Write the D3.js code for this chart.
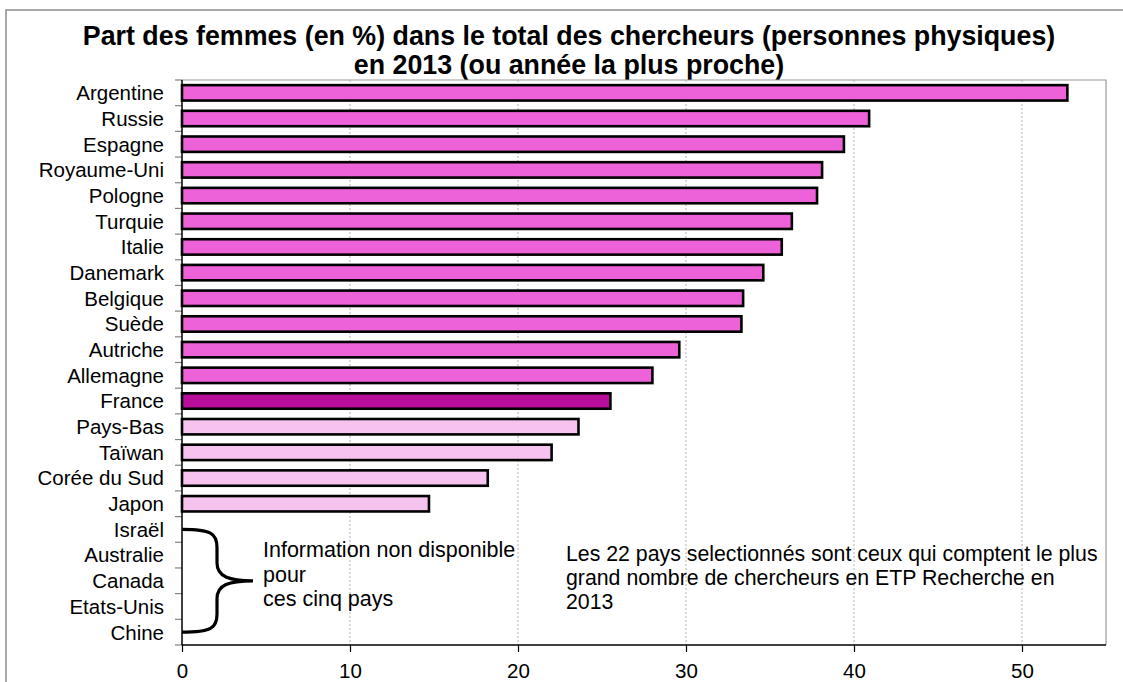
<!DOCTYPE html>
<html>
<head>
<meta charset="utf-8">
<script src="https://cdn.jsdelivr.net/npm/d3@7"></script>
<style>
  html, body { margin: 0; padding: 0; background: #fff; }
  svg { display: block; font-family: "Liberation Sans", Arial, sans-serif; }
</style>
</head>
<body>
<svg id="chart" width="1123" height="682"></svg>
<script>
const categories = ["Argentine","Russie","Espagne","Royaume-Uni","Pologne","Turquie","Italie","Danemark","Belgique","Suède","Autriche","Allemagne","France","Pays-Bas","Taïwan","Corée du Sud","Japon","Israël","Australie","Canada","Etats-Unis","Chine"];
const values = [52.7, 40.9, 39.4, 38.1, 37.8, 36.3, 35.7, 34.6, 33.4, 33.3, 29.6, 28.0, 25.5, 23.6, 22.0, 18.2, 14.7, null, null, null, null, null];
const groups = ["a","a","a","a","a","a","a","a","a","a","a","a","f","b","b","b","b","n","n","n","n","n"];
const xTicks = [0, 10, 20, 30, 40, 50];
const titleLines = ["Part des femmes (en %) dans le total des chercheurs (personnes physiques)", "en 2013 (ou année la plus proche)"];
const missingNote = ["Information non disponible", "pour", "ces cinq pays"];
const selectionNote = ["Les 22 pays selectionnés sont ceux qui comptent le plus", "grand nombre de chercheurs en ETP Recherche en", "2013"];
const missingCountries = ["Israël", "Chine"];

const colors = { a: "#ee62d9", f: "#b80e9b", b: "#f6c2ee" };

const svg = d3.select("#chart");
const pL = 182, pR = 1106, pT = 80, pB = 645;

// outer frame
svg.append("rect").attr("x", 6).attr("y", 10).attr("width", 1140).attr("height", 700)
  .attr("fill", "none").attr("stroke", "#8c8c8c").attr("stroke-width", 1.5);

const x = d3.scaleLinear().domain([0, 55]).range([pL, pR]);
const y = d3.scaleBand().domain(categories).range([pT, pB]).paddingInner(0.40).paddingOuter(0.20);
const step = y.step();

// title
svg.append("text").attr("text-anchor", "middle").attr("font-weight", "bold").attr("font-size", 26.8)
  .selectAll("tspan").data(titleLines).join("tspan")
  .attr("x", 569).attr("y", (d, i) => 45 + i * 29).text(d => d);

// plot border (top & right)
svg.append("path").attr("d", `M${pL},${pT}H${pR}V${pB}`).attr("fill", "none")
  .attr("stroke", "#9a9a9a").attr("stroke-width", 1.2);

// gridlines
svg.append("g").selectAll("line").data(xTicks.filter(t => t > 0)).join("line")
  .attr("x1", d => x(d)).attr("x2", d => x(d)).attr("y1", pT).attr("y2", pB)
  .attr("stroke", "#b0b0b0").attr("stroke-width", 1).attr("stroke-dasharray", "2,2");

// bars
svg.append("g").selectAll("rect").data(categories.map((c, i) => ({ c, v: values[i], g: groups[i] })).filter(d => d.v != null))
  .join("rect")
  .attr("x", x(0)).attr("y", d => y(d.c))
  .attr("width", d => x(d.v) - x(0)).attr("height", y.bandwidth())
  .attr("fill", d => colors[d.g]).attr("stroke", "#000").attr("stroke-width", 2.6);

// y axis
const yAxisG = svg.append("g");
const boundaries = d3.range(categories.length + 1).map(i => pT + i * step);
yAxisG.selectAll("line.tk").data(boundaries).join("line").attr("class", "tk")
  .attr("x1", pL - 7).attr("x2", pL).attr("y1", d => d).attr("y2", d => d)
  .attr("stroke", "#808080").attr("stroke-width", 1.2);
yAxisG.selectAll("text").data(categories).join("text")
  .attr("x", 164).attr("y", d => y(d) + y.bandwidth() / 2).attr("dy", "0.36em")
  .attr("text-anchor", "end").attr("font-size", 20.5).attr("fill", "#000").text(d => d);
svg.append("line").attr("x1", pL).attr("x2", pL).attr("y1", pT).attr("y2", pB)
  .attr("stroke", "#000").attr("stroke-width", 1.5);

// x axis
const xAxis = d3.axisBottom(x).tickValues(xTicks).tickSize(7).tickSizeOuter(0).tickPadding(11);
const xg = svg.append("g").attr("transform", `translate(0,${pB})`).call(xAxis);
xg.select(".domain").attr("stroke", "#000").attr("stroke-width", 1.5).attr("d", `M${pL},0H${pR}`);
xg.selectAll(".tick line").attr("stroke", "#000").attr("stroke-width", 1.2);
xg.selectAll(".tick text").attr("font-size", 20.5).attr("font-family", "Liberation Sans, Arial, sans-serif").attr("fill", "#000");

// brace
const y0 = y(missingCountries[0]) + y.bandwidth() / 2;
const y1 = y(missingCountries[1]) + y.bandwidth() / 2;
const ym = (y0 + y1) / 2;
const bx = x(0), bm = bx + 35, bt = bx + 71;
svg.append("path")
  .attr("d", `M${bx},${y0} C${bm - 6},${y0} ${bm},${y0 + 4} ${bm},${y0 + 18} L${bm},${ym - 18} C${bm},${ym - 4} ${bm + 12},${ym} ${bt},${ym} C${bm + 12},${ym} ${bm},${ym + 4} ${bm},${ym + 18} L${bm},${y1 - 18} C${bm},${y1 - 4} ${bm - 6},${y1} ${bx},${y1}`)
  .attr("fill", "none").attr("stroke", "#000").attr("stroke-width", 3.2);

// notes
svg.append("text").attr("font-size", 21.5).selectAll("tspan").data(missingNote).join("tspan")
  .attr("x", 263).attr("y", (d, i) => 557 + i * 24.5).text(d => d);
svg.append("text").attr("font-size", 21.3).selectAll("tspan").data(selectionNote).join("tspan")
  .attr("x", 566).attr("y", (d, i) => 561 + i * 24).text(d => d);
</script>
</body>
</html>
